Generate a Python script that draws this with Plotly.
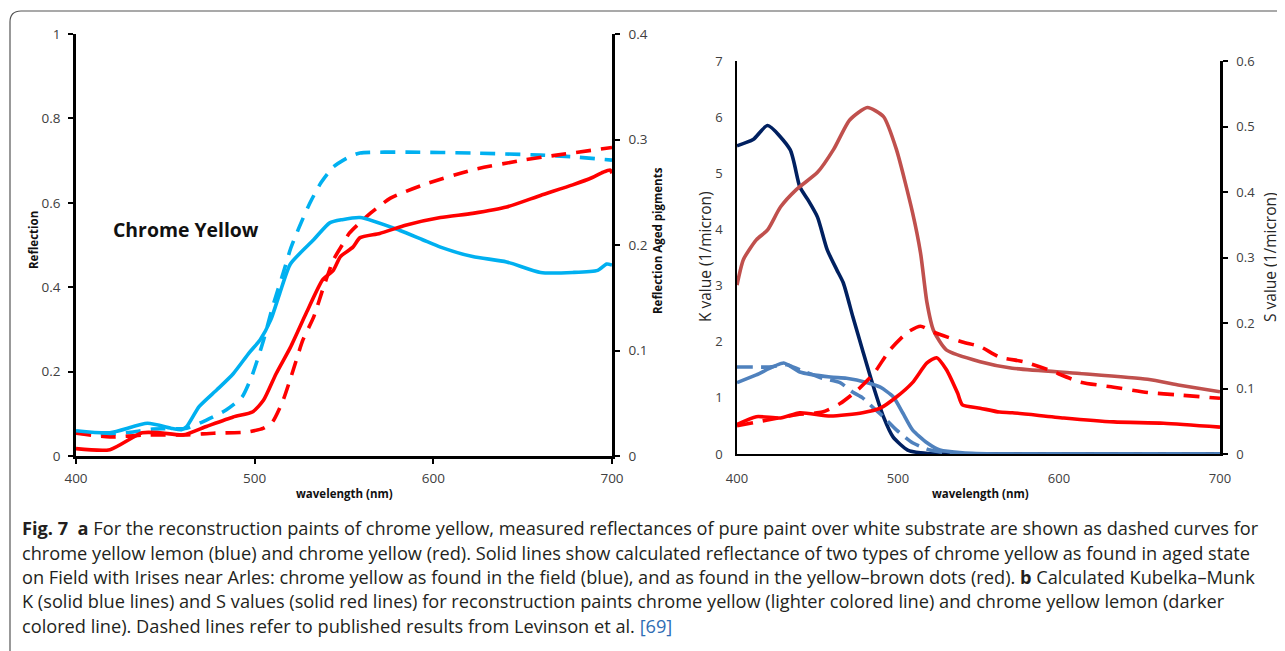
import plotly.graph_objects as go

W, H = 1285, 651
OFF = 8  # page body margin offset

# ---------------- Panel a: reflectance ----------------
# measured (dashed), left axis "Reflection"
wl_meas_lemon = [400, 413, 432, 443, 462, 473, 484, 493, 499, 505, 510, 516, 520, 525, 531, 537, 544, 553, 559, 585, 622, 660, 678, 700]
meas_lemon = [0.055, 0.050, 0.057, 0.064, 0.066, 0.085, 0.109, 0.140, 0.196, 0.275, 0.353, 0.434, 0.490, 0.543, 0.600, 0.647, 0.685, 0.709, 0.718, 0.720, 0.718, 0.713, 0.709, 0.701]

wl_meas_red = [400, 419, 440, 462, 477, 496, 505, 510, 516, 521, 527, 533, 538, 544, 549, 553, 565, 576, 594, 622, 650, 669, 700]
meas_red = [0.054, 0.045, 0.050, 0.050, 0.054, 0.057, 0.066, 0.081, 0.133, 0.196, 0.275, 0.329, 0.393, 0.464, 0.500, 0.528, 0.576, 0.611, 0.642, 0.678, 0.701, 0.713, 0.731]

# aged (solid), right axis "Reflection Aged pigments"
wl_aged_lemon = [400, 419, 440, 454, 459, 462, 469, 479, 488, 497, 503, 509, 514, 520, 533, 542, 549, 559, 581, 594, 604, 622, 641, 660, 678, 692, 697, 700]
aged_lemon = [0.024, 0.022, 0.031, 0.026, 0.025, 0.028, 0.047, 0.063, 0.078, 0.098, 0.110, 0.129, 0.154, 0.182, 0.205, 0.221, 0.224, 0.226, 0.214, 0.205, 0.198, 0.189, 0.184, 0.174, 0.174, 0.176, 0.182, 0.181]

wl_aged_red = [400, 419, 437, 447, 460, 473, 488, 499, 505, 512, 520, 529, 538, 544, 548, 555, 559, 570, 585, 604, 622, 641, 660, 678, 689, 695, 699, 700]
aged_red = [0.007, 0.006, 0.022, 0.022, 0.020, 0.028, 0.037, 0.042, 0.053, 0.078, 0.103, 0.136, 0.167, 0.176, 0.189, 0.198, 0.207, 0.211, 0.219, 0.226, 0.230, 0.236, 0.247, 0.257, 0.264, 0.269, 0.271, 0.268]

# ---------------- Panel b: Kubelka-Munk K and S ----------------
wl_k_lemon = [400, 410, 419, 433, 439, 444, 450, 456, 462, 466, 472, 478, 484, 491, 497, 506, 514, 526, 600, 700]
k_lemon = [5.49, 5.60, 5.85, 5.42, 4.76, 4.53, 4.22, 3.64, 3.28, 3.05, 2.44, 1.85, 1.27, 0.66, 0.30, 0.07, 0.02, 0.0, 0.0, 0.0]

wl_k_yellow = [400, 412, 429, 439, 458, 468, 481, 489, 497, 503, 509, 518, 526, 540, 563, 700]
k_yellow = [1.27, 1.41, 1.62, 1.46, 1.37, 1.35, 1.27, 1.19, 1.02, 0.73, 0.43, 0.20, 0.07, 0.02, 0.0, 0.0]

wl_k_pub = [400, 408, 420, 431, 439, 453, 464, 472, 478, 484, 491, 499, 509, 520, 530, 545, 700]
k_pub = [1.55, 1.55, 1.55, 1.59, 1.50, 1.35, 1.27, 1.10, 1.00, 0.84, 0.66, 0.43, 0.20, 0.07, 0.02, 0.0, 0.0]

wl_s_lemon = [400, 404, 412, 419, 427, 437, 450, 460, 470, 481, 491, 499, 509, 514, 518, 522, 530, 551, 571, 613, 655, 675, 700]
s_lemon = [0.258, 0.297, 0.327, 0.342, 0.377, 0.404, 0.430, 0.465, 0.510, 0.529, 0.515, 0.465, 0.369, 0.307, 0.231, 0.189, 0.159, 0.141, 0.131, 0.123, 0.114, 0.105, 0.095]

wl_s_yellow = [400, 412, 427, 439, 458, 478, 489, 499, 509, 518, 524, 530, 537, 540, 551, 563, 571, 603, 634, 665, 700]
s_yellow = [0.045, 0.057, 0.055, 0.063, 0.058, 0.063, 0.070, 0.087, 0.109, 0.139, 0.147, 0.129, 0.093, 0.075, 0.070, 0.064, 0.063, 0.055, 0.049, 0.047, 0.041]

wl_s_pub = [400, 419, 437, 453, 464, 475, 485, 495, 506, 514, 522, 540, 551, 563, 578, 593, 613, 634, 655, 675, 700]
s_pub = [0.043, 0.052, 0.060, 0.064, 0.077, 0.098, 0.123, 0.159, 0.186, 0.195, 0.186, 0.171, 0.164, 0.148, 0.141, 0.129, 0.110, 0.102, 0.094, 0.090, 0.085]

x_ticks = [400, 500, 600, 700]

caption_lines = [
    "<b>Fig. 7</b>  <b>a</b> For the reconstruction paints of chrome yellow, measured reflectances of pure paint over white substrate are shown as dashed curves for",
    "chrome yellow lemon (blue) and chrome yellow (red). Solid lines show calculated reflectance of two types of chrome yellow as found in aged state",
    "on Field with Irises near Arles: chrome yellow as found in the field (blue), and as found in the yellow–brown dots (red). <b>b</b> Calculated Kubelka–Munk",
    "K (solid blue lines) and S values (solid red lines) for reconstruction paints chrome yellow (lighter colored line) and chrome yellow lemon (darker",
    "colored line). Dashed lines refer to published results from Levinson et al. <span style='color:#2f6db5'>[69]</span>",
]

CYAN = "#00B0F0"
RED = "#FF0000"
NAVY = "#002060"
ROSE = "#C0504D"
STEEL = "#4F81BD"


def px(x):
    return (x - OFF) / W


def py(y):
    return 1 - (y - OFF) / H


fig = go.Figure()

LW = 3.6
sp = dict(shape="spline", smoothing=0.6)

fig.add_trace(go.Scatter(x=wl_meas_lemon, y=meas_lemon, xaxis="x", yaxis="y", mode="lines",
                         line=dict(color=CYAN, width=LW, dash="15px,10px", **sp)))
fig.add_trace(go.Scatter(x=wl_meas_red, y=meas_red, xaxis="x", yaxis="y", mode="lines",
                         line=dict(color=RED, width=LW, dash="15px,10px", **sp)))
fig.add_trace(go.Scatter(x=wl_aged_lemon, y=aged_lemon, xaxis="x", yaxis="y2", mode="lines",
                         line=dict(color=CYAN, width=LW, **sp)))
fig.add_trace(go.Scatter(x=wl_aged_red, y=aged_red, xaxis="x", yaxis="y2", mode="lines",
                         line=dict(color=RED, width=LW, **sp)))

fig.add_trace(go.Scatter(x=wl_s_lemon, y=s_lemon, xaxis="x2", yaxis="y4", mode="lines",
                         line=dict(color=ROSE, width=LW, **sp)))
fig.add_trace(go.Scatter(x=wl_s_pub, y=s_pub, xaxis="x2", yaxis="y4", mode="lines",
                         line=dict(color=RED, width=LW, dash="16px,10px", **sp)))
fig.add_trace(go.Scatter(x=wl_s_yellow, y=s_yellow, xaxis="x2", yaxis="y4", mode="lines",
                         line=dict(color=RED, width=LW, **sp)))
fig.add_trace(go.Scatter(x=wl_k_lemon, y=k_lemon, xaxis="x2", yaxis="y3", mode="lines",
                         line=dict(color=NAVY, width=LW, **sp)))
fig.add_trace(go.Scatter(x=wl_k_yellow, y=k_yellow, xaxis="x2", yaxis="y3", mode="lines",
                         line=dict(color=STEEL, width=LW, **sp)))
fig.add_trace(go.Scatter(x=wl_k_pub, y=k_pub, xaxis="x2", yaxis="y3", mode="lines",
                         line=dict(color=STEEL, width=LW, dash="16px,8px", **sp)))

tickfont = dict(family="Open Sans", size=13.5, color="#404040")
tickfont_b = dict(family="Open Sans", size=13, color="#404040")
axis_common = dict(showgrid=False, zeroline=False, showline=True, linecolor="black",
                   fixedrange=True, automargin=False, layer="below traces")
vis_ticks = dict(ticks="outside", ticklen=5, tickwidth=2, tickcolor="black")

fig.update_layout(
    width=W, height=H,
    autosize=False,
    margin=dict(l=0, r=0, t=0, b=0, pad=0, autoexpand=False),
    paper_bgcolor="white", plot_bgcolor="white",
    showlegend=False,
    xaxis=dict(domain=[px(76), px(612)], range=[400, 700], anchor="y", tickvals=x_ticks,
               linewidth=2.5, tickfont=tickfont, ticklabelstandoff=3, **vis_ticks, **axis_common),
    yaxis=dict(domain=[py(456), py(34)], range=[0, 1], anchor="x", dtick=0.2,
               linewidth=2.5, tickfont=tickfont, ticklabelstandoff=5, **vis_ticks, **axis_common),
    yaxis2=dict(overlaying="y", side="right", anchor="x", range=[0, 0.4], dtick=0.1,
                linewidth=2.5, tickfont=tickfont, ticklabelstandoff=6, **vis_ticks, **axis_common),
    xaxis2=dict(domain=[px(737), px(1220)], range=[400, 700], anchor="y3", tickvals=x_ticks,
                ticks="", linewidth=2, tickfont=tickfont_b, ticklabelstandoff=11, **axis_common),
    yaxis3=dict(domain=[py(454), py(61)], range=[0, 7], anchor="x2", dtick=1,
                ticks="", linewidth=1.5, tickfont=tickfont_b, ticklabelstandoff=10, **axis_common),
    yaxis4=dict(overlaying="y3", side="right", anchor="x2", range=[0, 0.6], dtick=0.1,
                linewidth=2.5, tickfont=tickfont_b, ticklabelstandoff=6, **vis_ticks, **axis_common),
)

title_font = dict(family="Open Sans", size=11.5, color="#111111")
ann = []
ann.append(dict(text="<b>Reflection</b>", x=px(34), y=py(240), textangle=-90, font=title_font))
ann.append(dict(text="<b>Reflection Aged pigments</b>", x=px(658), y=py(241), textangle=-90, font=title_font))
ann.append(dict(text="<b>wavelength (nm)</b>", x=px(344), y=py(493), font=title_font))
ann.append(dict(text="<b>wavelength (nm)</b>", x=px(980), y=py(493), font=title_font))
ann.append(dict(text="<b>Chrome Yellow</b>", x=px(111), y=py(229), xanchor="left",
                font=dict(family="Open Sans", size=19.4, color="#111111")))
big = dict(family="Open Sans", size=15.5, color="#262626")
ann.append(dict(text="K value (1/micron)", x=px(705), y=py(257), textangle=-90, font=big))
ann.append(dict(text="S value (1/micron)", x=px(1270), y=py(257), textangle=-90, font=big))

cap_font = dict(family="Open Sans", size=18.2, color="#231f20")
cap_y = [528, 552.5, 577, 601, 625.5]
for t, yy in zip(caption_lines, cap_y):
    ann.append(dict(text=t, x=px(20), y=py(yy), xanchor="left", font=cap_font))

for a in ann:
    a.setdefault("xanchor", "center")
    a["xref"] = "paper"
    a["yref"] = "paper"
    a["yanchor"] = "middle"
    a["showarrow"] = False
fig.update_layout(annotations=ann)

border = (f"M {px(10)},{py(700)} L {px(10)},{py(22)} "
          f"Q {px(10)},{py(11)} {px(21)},{py(11)} L {px(1300)},{py(11)}")
fig.add_shape(type="path", path=border, xref="paper", yref="paper",
              line=dict(color="#555555", width=1.2))

fig.write_html("out.html")
